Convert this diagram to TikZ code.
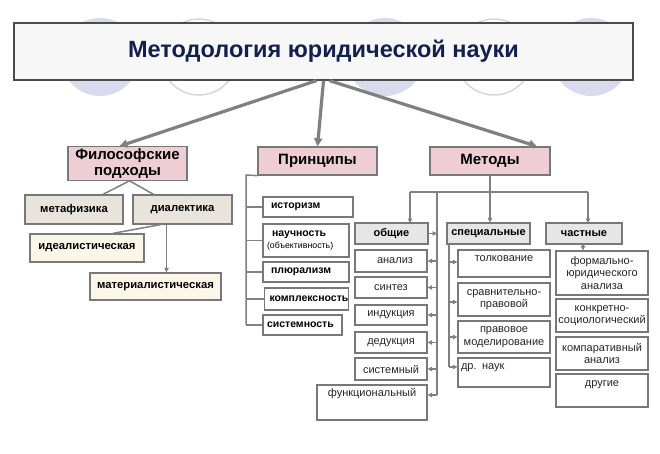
\documentclass[tikz,border=0pt]{standalone}
\usepackage{fontspec}
\setmainfont{Liberation Sans}
\usetikzlibrary{arrows.meta}

\definecolor{titleblue}{RGB}{18,32,80}
\definecolor{lineg}{RGB}{128,128,128}
\definecolor{boxline}{RGB}{120,120,120}
\definecolor{pinkfill}{RGB}{238,206,212}
\definecolor{beigefill}{RGB}{232,228,220}
\definecolor{creamfill}{RGB}{251,246,232}
\definecolor{headfill}{RGB}{230,230,230}
\definecolor{circfill}{RGB}{218,218,238}
\definecolor{circline}{RGB}{214,214,224}

\tikzset{
    box/.style={draw=boxline, line width=1.3pt, inner sep=2pt, align=center},
    pinkbox/.style={box, fill=pinkfill, font=\fontsize{15}{15.5}\selectfont\bfseries},
    philbox/.style={box, fill=beigefill, font=\fontsize{11.3}{12}\selectfont\bfseries},
    creambox/.style={box, fill=creamfill, font=\fontsize{11.3}{12}\selectfont\bfseries},
    princbox/.style={box, fill=white, align=left, inner xsep=8pt, font=\fontsize{10.5}{12}\selectfont\bfseries},
    headbox/.style={box, fill=headfill, font=\fontsize{11}{12}\selectfont\bfseries},
    itembox/.style={box, fill=white, text=black!85, font=\fontsize{11}{12.5}\selectfont},
    bigarrow/.style={draw=lineg, line width=3.2pt, -{Triangle[length=8pt,width=8pt]}},
    conn/.style={draw=lineg, line width=1.5pt},
    connarrow/.style={conn, -{Triangle[length=4.5pt,width=4.5pt]}}
}

\begin{document}
\begin{tikzpicture}[x=1pt, y=-1pt]
    \useasboundingbox (0,0) rectangle (660,454);
    \fill[white] (0,0) rectangle (660,454);

    % Background circles behind the title
    \foreach \cx in {100,385,591}
    {
        \fill[circfill] (\cx,57) circle (39);
    }
    \foreach \cx in {199,494}
    {
        \draw[circline, line width=1.5pt] (\cx,57) circle (38);
    }

    % Title
    \node[draw=black!70, line width=1.3pt, fill=black!3, minimum width=619, minimum height=57,
          text=titleblue, font=\fontsize{23.5}{26}\selectfont\bfseries] (title) at (323.5,51.5)
          {Методология юридической науки};

    % Main branches
    \node[pinkbox, minimum width=119, minimum height=33] (phil) at (127.5,163.5) {Философские\\подходы};
    \node[pinkbox, minimum width=119, minimum height=28] (prin) at (317.5,161) {Принципы};
    \node[pinkbox, minimum width=120, minimum height=28] (meth) at (490,161) {Методы};

    \draw[bigarrow] ([xshift=-7]title.south) -- ([xshift=-8]phil.north);
    \draw[bigarrow] (title.south) -- (prin.north);
    \draw[bigarrow] ([xshift=6]title.south) -- ([xshift=47]meth.north);

    % Philosophical approaches
    \node[philbox, minimum width=98, minimum height=29] (metaf) at (74,209.5) {метафизика};
    \node[philbox, minimum width=99, minimum height=29] (dial) at (182.5,209.5) {диалектика};
    \node[creambox, minimum width=114, minimum height=28] (ideal) at (87,248) {идеалистическая};
    \node[creambox, minimum width=131, minimum height=27] (mater) at (155.5,286.5) {материалистическая};

    \draw[conn] ([xshift=2]phil.south) -- ([xshift=29]metaf.north);
    \draw[conn] ([xshift=2]phil.south) -- ([xshift=-29]dial.north);
    \draw[conn] ([xshift=-22]dial.south) -- ([xshift=26]ideal.north);
    \draw[connarrow] ([xshift=-16]dial.south) -- ([xshift=-16]dial.south |- mater.north);

    % Principles
    \node[princbox, text width=74, minimum height=20] (hist) at (308,207) {историзм};
    \node[princbox, text width=78, minimum height=33, inner xsep=4pt] (nauch) at (306,240.5)
          {\hspace*{5pt}научность\\{\fontsize{8.8}{11}\selectfont\mdseries(объективность)}};
    \node[princbox, text width=70, minimum height=20] (plur) at (306,272) {плюрализм};
    \node[princbox, text width=74, minimum height=22, inner xsep=5pt] (kompl) at (306.5,299) {комплексность};
    \node[princbox, text width=71, minimum height=20, inner xsep=4pt] (sist) at (302.5,325) {системность};

    \coordinate (pspine) at (246,175);
    \draw[conn] (prin.south west) -- (pspine) -- (pspine |- sist.west);
    \foreach \n in {hist,nauch,plur,kompl,sist}
    {
        \draw[conn] (pspine |- \n.west) -- (\n.west);
    }

    % Methods: groups
    \node[headbox, minimum width=73, minimum height=21] (gen) at (391.5,233.5) {общие};
    \node[headbox, minimum width=83, minimum height=21] (spec) at (488.5,233.5) {специальные};
    \node[headbox, minimum width=76, minimum height=21] (part) at (584,233.5) {частные};

    \coordinate (mbus) at (490,192);
    \draw[conn] (meth.south) -- (mbus);
    \draw[conn] (410,192) -- (588,192);
    \draw[connarrow] (410,192) -- (410,223);
    \draw[connarrow] (mbus) -- (mbus |- spec.north);
    \draw[connarrow] (588,192) -- (588,223);

    % General methods
    \node[itembox, minimum width=72, minimum height=22] (anal) at (391,261) {\hspace*{8pt}анализ};
    \node[itembox, minimum width=72, minimum height=21] (synt) at (391,287.5) {синтез};
    \node[itembox, minimum width=72, minimum height=20] (induc) at (391,315) {индукция};
    \node[itembox, minimum width=72, minimum height=21] (deduc) at (391,342.5) {дедукция};
    \node[itembox, minimum width=72, minimum height=22] (sysm) at (391,369) {системный};
    \node[itembox, minimum width=110, minimum height=35, text height=8, text depth=21] (func) at (372,402.5) {функциональный};

    \coordinate (gspine) at (437,192);
    \draw[conn] (gspine) -- (gspine |- 0,395);
    \draw[connarrow] (gen.east) -- (gspine |- gen.east);
    \foreach \n in {anal,synt,induc,deduc,sysm}
    {
        \draw[connarrow] (gspine |- \n.east) -- (\n.east);
    }
    \draw[connarrow] (gspine |- 0,395) -- (func.east |- 0,395);

    % Special methods
    \node[itembox, minimum width=92, minimum height=27, text height=8, text depth=13] (tolk) at (504,263.5) {толкование};
    \node[itembox, minimum width=92, minimum height=33] (sravn) at (504,299.5) {сравнительно-\\правовой};
    \node[itembox, minimum width=92, minimum height=32] (model) at (504,337) {правовое\\моделирование};
    \node[itembox, minimum width=92, minimum height=29, text width=86, align=left, text height=8, text depth=15] (other) at (504,372.5) {др. наук};

    \coordinate (sspine) at (449,244);
    \draw[conn] (sspine) -- (sspine |- 0,367);
    \foreach \n/\y in {tolk/262,sravn/302,model/337}
    {
        \draw[connarrow] (sspine |- 0,\y) -- (\n.west |- 0,\y);
    }
    \draw[connarrow] (sspine |- 0,367) -- (other.west |- 0,367);

    % Particular methods
    \node[itembox, minimum width=92, minimum height=44] (formal) at (602,273) {формально-\\юридического\\анализа};
    \node[itembox, minimum width=92, minimum height=33] (konkr) at (602,315.5) {конкретно-\\социологический};
    \node[itembox, minimum width=92, minimum height=33] (kompar) at (602,353.5) {компаративный\\анализ};
    \node[itembox, minimum width=92, minimum height=33, text height=8, text depth=17] (drug) at (602,390.5) {другие};

    \draw[connarrow] (part.south -| 583,0) -- (formal.north -| 583,0);
\end{tikzpicture}
\end{document}
